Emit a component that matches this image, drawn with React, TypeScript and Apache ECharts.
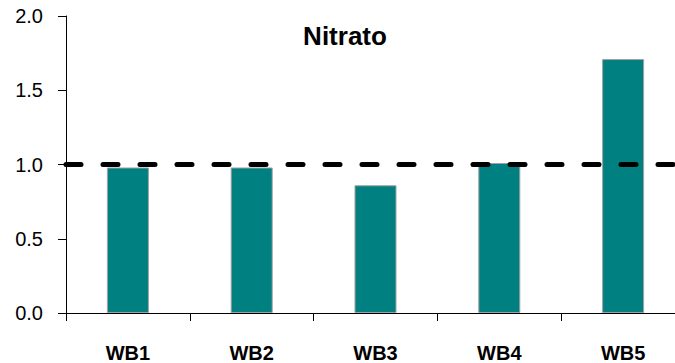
import React, { useEffect, useRef } from "react";
import * as echarts from "echarts";

const categories = ["WB1", "WB2", "WB3", "WB4", "WB5"];
const nitrato = [0.98, 0.98, 0.86, 1.01, 1.71];
const referenceLevel = 1.0;
const yTicks = { min: 0, max: 2, interval: 0.5 };

export default function App() {
  const ref = useRef<HTMLDivElement>(null);

  useEffect(() => {
    if (!ref.current) return;
    const chart = echarts.init(ref.current, undefined, { renderer: "svg" });
    const font = "Arial, 'Liberation Sans', sans-serif";
    chart.setOption({
      animation: false,
      backgroundColor: "#ffffff",
      title: {
        text: "Nitrato",
        left: 340,
        top: 18,
        textAlign: "center",
        textStyle: { fontFamily: font, fontSize: 26, fontWeight: "bold", color: "#000" },
      },
      grid: {
        left: 66,
        top: 16,
        width: 619,
        height: 297,
        containLabel: false,
        outerBoundsMode: "none",
      },
      xAxis: {
        type: "category",
        data: categories,
        boundaryGap: true,
        axisLine: { show: true, lineStyle: { color: "#000", width: 1 } },
        axisTick: { show: true, length: 8, inside: false, lineStyle: { color: "#000" } },
        axisLabel: {
          margin: 30,
          fontFamily: font,
          fontSize: 20,
          fontWeight: "bold",
          color: "#000",
        },
        splitLine: { show: false },
      },
      yAxis: {
        type: "value",
        min: yTicks.min,
        max: yTicks.max,
        interval: yTicks.interval,
        axisLine: { show: true, lineStyle: { color: "#000", width: 1 } },
        axisTick: { show: true, length: 8, inside: false, lineStyle: { color: "#000" } },
        axisLabel: {
          margin: 23,
          fontFamily: font,
          fontSize: 20,
          color: "#000",
          formatter: (v: number) => v.toFixed(1),
        },
        splitLine: { show: false },
      },
      series: [
        {
          type: "bar",
          data: nitrato,
          barWidth: 42,
          itemStyle: { color: "#008080", borderColor: "#a0a0a0", borderWidth: 1 },
          markLine: {
            silent: true,
            symbol: "none",
            label: { show: false },
            lineStyle: {
              color: "#000",
              width: 5,
              type: [15, 22],
              cap: "round",
            },
            data: [{ yAxis: referenceLevel }],
          },
        },
      ],
    });
    return () => chart.dispose();
  }, []);

  return (
    <div
      ref={ref}
      style={{ position: "fixed", left: 0, top: 0, width: 675, height: 363 }}
    />
  );
}
